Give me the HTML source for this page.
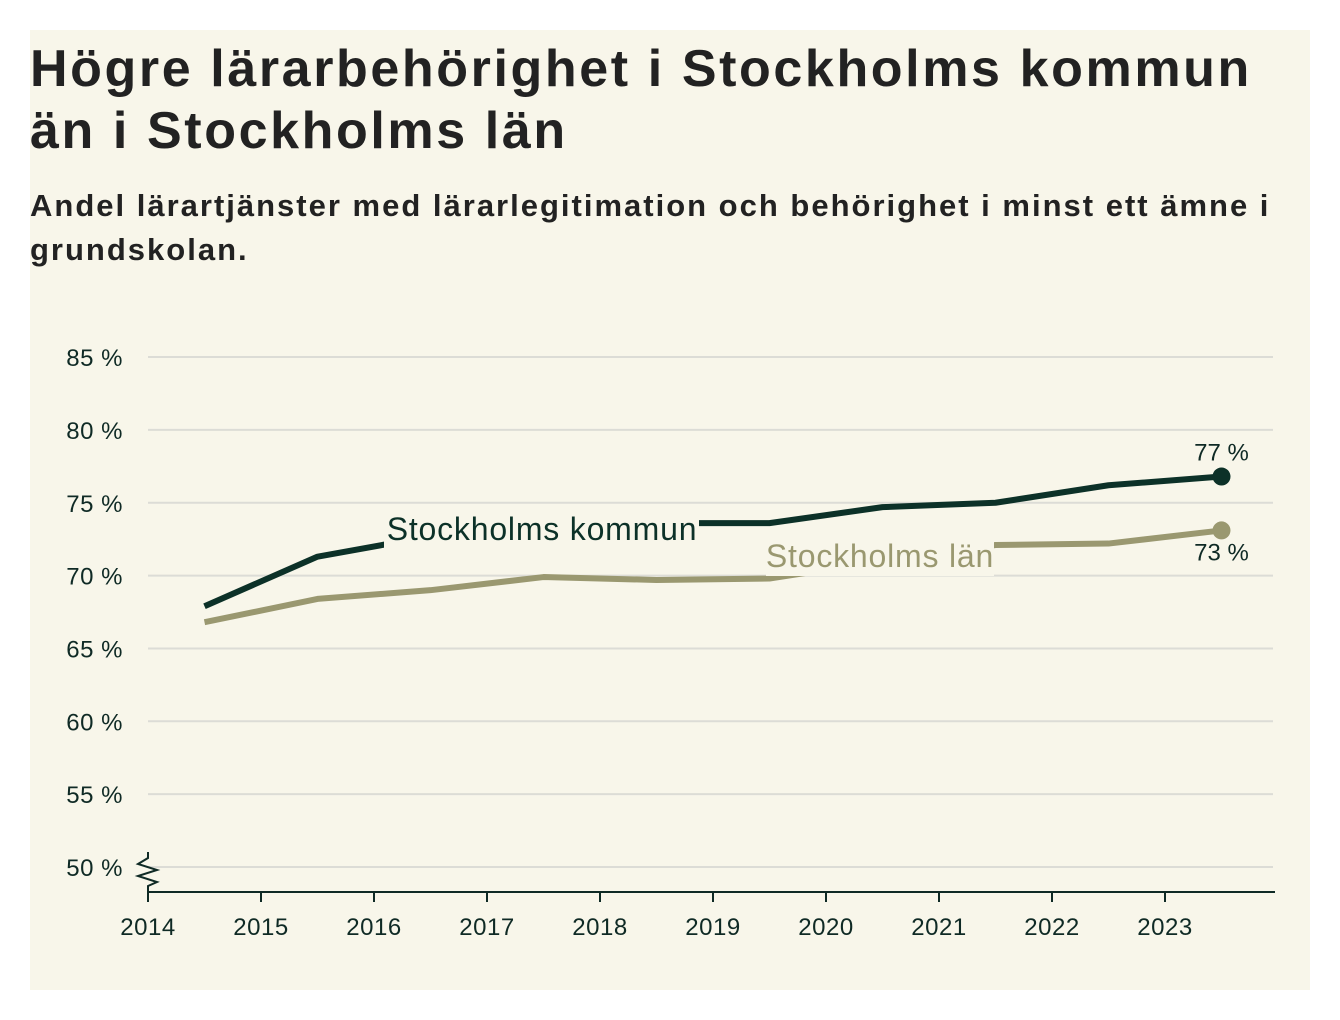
<!DOCTYPE html>
<html><head><meta charset="utf-8"><style>
html,body{margin:0;padding:0;background:#fff;}
body{width:1340px;height:1020px;position:relative;font-family:"Liberation Sans",sans-serif;}
#card{position:absolute;left:30px;top:30px;width:1280px;height:960px;background:#f8f6ea;}
h1{position:absolute;left:0;top:8px;margin:0;font-size:52px;line-height:62px;font-weight:bold;color:#222;letter-spacing:2.6px;width:1280px;white-space:nowrap;}
h2{position:absolute;left:0;top:154px;margin:0;font-size:31px;line-height:44px;font-weight:bold;color:#222;letter-spacing:2px;white-space:nowrap;}
svg{position:absolute;left:0;top:0;}
</style></head><body>
<div id="card">
<h1>Högre lärarbehörighet i Stockholms kommun<br>än i Stockholms län</h1>
<h2>Andel lärartjänster med lärarlegitimation och behörighet i minst ett ämne i<br>grundskolan.</h2>
</div>
<svg id="chart" width="1340" height="1020"></svg>
<script>
const years=[2014.5,2015.5,2016.5,2017.5,2018.5,2019.5,2020.5,2021.5,2022.5,2023.5];
const kommun=[67.9,71.3,72.7,73.4,73.6,73.6,74.7,75.0,76.2,76.8];
const lan=[66.8,68.4,69.0,69.9,69.7,69.8,71.0,72.1,72.2,73.1];
const yTicks=[50,55,60,65,70,75,80,85];
const xTicks=[2014,2015,2016,2017,2018,2019,2020,2021,2022,2023];
const NS="http://www.w3.org/2000/svg";
const svg=document.getElementById('chart');
const x=v=>148+(v-2014)*113;
const y=v=>867-(v-50)*14.57;
function el(t,a,txt){const e=document.createElementNS(NS,t);for(const k in a)e.setAttribute(k,a[k]);if(txt!==undefined)e.textContent=txt;svg.appendChild(e);return e;}
const F='"Liberation Sans",sans-serif';
yTicks.forEach(v=>{
 const g=el('line',{x1:148,x2:1273,y1:y(v),y2:y(v),stroke:'#dcdcd6','stroke-width':2});
 
 
 const t=el('text',{x:123,y:y(v)+9,'text-anchor':'end','font-size':24,'font-family':F,fill:'#0f2a25','letter-spacing':0.5},v+' %');
 
 
});
const ax=el('line',{x1:148,x2:1275,y1:892,y2:892,stroke:'#0f2a25','stroke-width':2});


const br=el('path',{d:'M148,852 L148,858 L138,864 L157,870 L138,876 L157,882 L148,886 L148,892',fill:'none',stroke:'#0f2a25','stroke-width':2});


xTicks.forEach(v=>{
 const l=el('line',{x1:x(v),x2:x(v),y1:892,y2:902,stroke:'#0f2a25','stroke-width':2});
 
 
 const t=el('text',{x:x(v),y:935,'text-anchor':'middle','font-size':24,'font-family':F,fill:'#0f2a25','letter-spacing':0.5},v);
 
 
});
function series(d,col,name){
 const p=el('polyline',{points:d.map((v,i)=>x(years[i])+','+y(v)).join(' '),fill:'none',stroke:col,'stroke-width':6,'stroke-linejoin':'round'});
 
 
 const n=d.length-1;
 const c=el('circle',{cx:x(years[n]),cy:y(d[n]),r:9,fill:col});
 
 
}
series(lan,'#9a9870','lan');
series(kommun,'#0c3128','kommun');
const bg1=el('rect',{x:384,y:512,width:315,height:36,fill:'#f8f6ea'});


const l1=el('text',{x:542,y:540,'text-anchor':'middle','font-size':32,'font-family':F,fill:'#0c3128','letter-spacing':0.8},'Stockholms kommun');


const bg2=el('rect',{x:766,y:540,width:228,height:36,fill:'#f8f6ea'});


const l2=el('text',{x:880,y:567,'text-anchor':'middle','font-size':32,'font-family':F,fill:'#9a9870','letter-spacing':0.8},'Stockholms län');


const n=years.length-1;
const v1=el('text',{x:x(years[n]),y:y(kommun[n])-16,'text-anchor':'middle','font-size':24,'font-family':F,fill:'#0f2a25'},Math.round(kommun[n])+' %');


const v2=el('text',{x:x(years[n]),y:y(lan[n])+30,'text-anchor':'middle','font-size':24,'font-family':F,fill:'#0f2a25'},Math.round(lan[n])+' %');


</script>
</body></html>
